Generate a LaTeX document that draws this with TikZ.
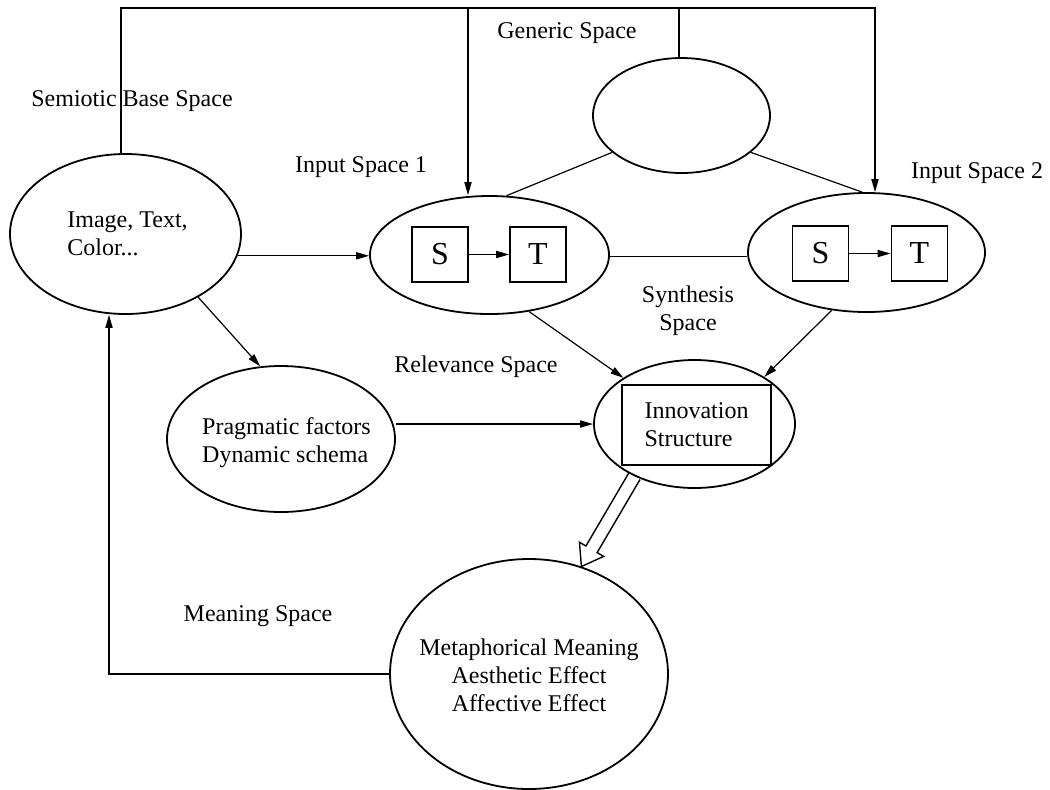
\documentclass[tikz,border=0pt]{standalone}
\usepackage{fontspec}
\setmainfont{Liberation Serif}
\usetikzlibrary{shapes.geometric,arrows.meta,calc}
\begin{document}
\begin{tikzpicture}[x=0.5pt,y=-0.5pt,
  every node/.style={font=\fontsize{12}{14}\selectfont, inner sep=0pt},
  sp/.style={ellipse, draw, line width=0.9pt, inner sep=0pt},
  sq/.style={draw, line width=0.9pt, minimum width=28pt, minimum height=27.5pt, inner sep=0pt, font=\fontsize{16}{18}\selectfont},
  conn/.style={line width=0.6pt},
  arr/.style={conn, -{Triangle[length=6.5pt,width=3.6pt]}}]
\useasboundingbox (0,0) rectangle (1050,789);

% spaces
\node[sp, minimum width=115.5pt, minimum height=80pt] (sem) at (125.5,234) {};
\node[align=left] (semt) at (127.5,234) {Image, Text,\\Color...};
\node[sp, minimum width=88.5pt, minimum height=57.5pt] (gen) at (681.5,115.5) {};
\node[sp, minimum width=119.5pt, minimum height=59pt] (is1) at (489.5,255) {};
\node[sp, minimum width=118.5pt, minimum height=59.5pt] (is2) at (866.5,252.5) {};
\node[sp, minimum width=114pt, minimum height=73pt] (prag) at (281,439) {};
\node[align=left] (pragt) at (286.5,442.5) {Pragmatic factors\\Dynamic schema};
\node[sp, minimum width=100.5pt, minimum height=64pt] (innov) at (694.5,424) {};
\node[draw, line width=0.9pt, minimum width=74.5pt, minimum height=40pt, align=left] (innr) at (696.5,425) {Innovation\\Structure};
\node[sp, minimum width=139pt, minimum height=115pt] (mean) at (529,674) {};
\node[align=center] (meant) at (529,675) {Metaphorical Meaning\\Aesthetic Effect\\Affective Effect};

% S -> T boxes
\node[sq] (s1) at (440,254.5) {S};
\node[sq] (t1) at (538,254.5) {T};
\node[sq] (s2) at (820.5,253.5) {S};
\node[sq] (t2) at (919.5,253.5) {T};
\draw[arr] (s1) -- (t1);
\draw[arr] (s2) -- (t2);

% labels
\node (lsem) at (132,101) {Semiotic Base Space};
\node (lin1) at (361,167) {Input Space 1};
\node (lgen) at (567,33) {Generic Space};
\node (lin2) at (977,173) {Input Space 2};
\node[align=center] (lsyn) at (688,311) {Synthesis\\Space};
\node (lrel) at (476,367) {Relevance Space};
\node (lmean) at (258,616) {Meaning Space};

% connectors
\coordinate (t0) at (121,8);
\coordinate (ta) at (468,8);
\coordinate (tg) at (679,8);
\coordinate (tb) at (875,8);
\coordinate (mid) at (600,256.5);
\draw[arr] (sem.north -| t0) -- (t0) -- (tb) -- (is2.north -| tb);
\draw[arr] (ta) -- (is1.north -| ta);
\draw[conn] (tg) -- (gen.north -| tg);
\draw[conn] (gen.208) -- (is1.74);
\draw[conn] (gen.332) -- (is2.94);
\draw[conn] (is1.east |- mid) -- (is2.west |- mid);
\draw[arr] (sem.-11) -- (sem.-11 -| is1.west);
\draw[arr] (sem.-41) -- (prag.106);
\draw[arr] (innov.west -| prag.east) -- (innov.west);
\draw[arr] (is1.-55) -- (innov.147);
\draw[arr] (is2.239) -- (innov.34);
\coordinate (lc) at (109,676);
\draw[arr] (mean.west) -- (mean.west -| lc) -- (lc |- sem.south);

% hollow arrow
\coordinate (hs) at (innov.221);
\coordinate (ht) at (mean.64);
\coordinate (hb) at ($(ht)!10pt!(hs)$);
\draw[line width=0.7pt, line join=miter]
  ($(hs)!3.25pt!90:(ht)$) -- ($(hb)!3.25pt!90:(ht)$) -- ($(hb)!7pt!90:(ht)$) -- (ht)
  -- ($(hb)!7pt!-90:(ht)$) -- ($(hb)!3.25pt!-90:(ht)$) -- ($(hs)!3.25pt!-90:(ht)$);
\end{tikzpicture}
\end{document}
